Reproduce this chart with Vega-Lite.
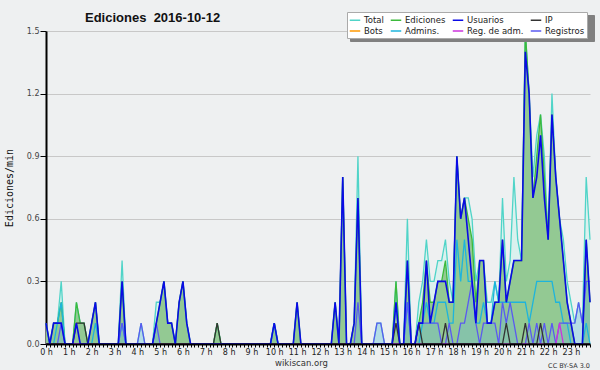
{
"$schema": "https://vega.github.io/schema/vega-lite/v6.json",
"width": 544, "height": 313,
"autosize": {"type": "none"},
"padding": {"left": 46, "top": 31, "right": 10, "bottom": 26},
"background": "#eef0f1",
"config": {"view": {"stroke": null}, "font": "DejaVu Sans"},
"title": {"text": "Ediciones\u00a0 2016-10-12", "anchor": "start", "frame": "group", "dx": 39, "dy": 12, "offset": -11, "baseline": "alphabetic", "font": "Liberation Sans", "fontSize": 13, "fontWeight": "bold", "color": "#111"},
"data": {"values": [
{"h":0,"T":0.1,"E":0.1,"U":0.1,"P":0,"A":0,"R":0,"M":0},
{"h":0.1667,"T":0,"E":0,"U":0,"P":0,"A":0,"R":0,"M":0},
{"h":0.3333,"T":0.1,"E":0.1,"U":0.1,"P":0,"A":0,"R":0,"M":0},
{"h":0.5,"T":0.1,"E":0.1,"U":0.1,"P":0,"A":0.1,"R":0,"M":0},
{"h":0.6667,"T":0.3,"E":0.2,"U":0.1,"P":0,"A":0.2,"R":0.1,"M":0},
{"h":0.8333,"T":0,"E":0,"U":0,"P":0,"A":0,"R":0,"M":0},
{"h":1,"T":0,"E":0,"U":0,"P":0,"A":0,"R":0,"M":0},
{"h":1.1667,"T":0,"E":0,"U":0,"P":0,"A":0,"R":0,"M":0},
{"h":1.3333,"T":0.2,"E":0.2,"U":0.1,"P":0.1,"A":0,"R":0,"M":0},
{"h":1.5,"T":0.1,"E":0.1,"U":0,"P":0.1,"A":0,"R":0,"M":0},
{"h":1.6667,"T":0.1,"E":0.1,"U":0,"P":0.1,"A":0,"R":0,"M":0},
{"h":1.8333,"T":0,"E":0,"U":0,"P":0,"A":0,"R":0,"M":0},
{"h":2,"T":0.1,"E":0.1,"U":0.1,"P":0,"A":0,"R":0,"M":0},
{"h":2.1667,"T":0.2,"E":0.2,"U":0.2,"P":0,"A":0.1,"R":0,"M":0},
{"h":2.3333,"T":0,"E":0,"U":0,"P":0,"A":0,"R":0,"M":0},
{"h":2.5,"T":0,"E":0,"U":0,"P":0,"A":0,"R":0,"M":0},
{"h":2.6667,"T":0,"E":0,"U":0,"P":0,"A":0,"R":0,"M":0},
{"h":2.8333,"T":0,"E":0,"U":0,"P":0,"A":0,"R":0,"M":0},
{"h":3,"T":0,"E":0,"U":0,"P":0,"A":0,"R":0,"M":0},
{"h":3.1667,"T":0,"E":0,"U":0,"P":0,"A":0,"R":0,"M":0},
{"h":3.3333,"T":0.4,"E":0.3,"U":0.3,"P":0,"A":0.1,"R":0.1,"M":0},
{"h":3.5,"T":0,"E":0,"U":0,"P":0,"A":0,"R":0,"M":0},
{"h":3.6667,"T":0,"E":0,"U":0,"P":0,"A":0,"R":0,"M":0},
{"h":3.8333,"T":0,"E":0,"U":0,"P":0,"A":0,"R":0,"M":0},
{"h":4,"T":0,"E":0,"U":0,"P":0,"A":0,"R":0,"M":0},
{"h":4.1667,"T":0.1,"E":0,"U":0,"P":0,"A":0,"R":0.1,"M":0},
{"h":4.3333,"T":0,"E":0,"U":0,"P":0,"A":0,"R":0,"M":0},
{"h":4.5,"T":0,"E":0,"U":0,"P":0,"A":0,"R":0,"M":0},
{"h":4.6667,"T":0,"E":0,"U":0,"P":0,"A":0,"R":0,"M":0},
{"h":4.8333,"T":0.2,"E":0.1,"U":0.1,"P":0,"A":0,"R":0.1,"M":0},
{"h":5,"T":0.2,"E":0.2,"U":0.2,"P":0,"A":0,"R":0,"M":0},
{"h":5.1667,"T":0.3,"E":0.3,"U":0.3,"P":0,"A":0,"R":0,"M":0},
{"h":5.3333,"T":0.1,"E":0.1,"U":0.1,"P":0,"A":0,"R":0,"M":0},
{"h":5.5,"T":0.1,"E":0.1,"U":0.1,"P":0,"A":0,"R":0,"M":0},
{"h":5.6667,"T":0,"E":0,"U":0,"P":0,"A":0,"R":0,"M":0},
{"h":5.8333,"T":0.2,"E":0.2,"U":0.2,"P":0,"A":0,"R":0,"M":0},
{"h":6,"T":0.3,"E":0.3,"U":0.3,"P":0,"A":0,"R":0,"M":0},
{"h":6.1667,"T":0.1,"E":0.1,"U":0.1,"P":0,"A":0,"R":0,"M":0},
{"h":6.3333,"T":0,"E":0,"U":0,"P":0,"A":0,"R":0,"M":0},
{"h":6.5,"T":0,"E":0,"U":0,"P":0,"A":0,"R":0,"M":0},
{"h":6.6667,"T":0,"E":0,"U":0,"P":0,"A":0,"R":0,"M":0},
{"h":6.8333,"T":0,"E":0,"U":0,"P":0,"A":0,"R":0,"M":0},
{"h":7,"T":0,"E":0,"U":0,"P":0,"A":0,"R":0,"M":0},
{"h":7.1667,"T":0,"E":0,"U":0,"P":0,"A":0,"R":0,"M":0},
{"h":7.3333,"T":0,"E":0,"U":0,"P":0,"A":0,"R":0,"M":0},
{"h":7.5,"T":0.1,"E":0.1,"U":0,"P":0.1,"A":0,"R":0,"M":0},
{"h":7.6667,"T":0,"E":0,"U":0,"P":0,"A":0,"R":0,"M":0},
{"h":7.8333,"T":0,"E":0,"U":0,"P":0,"A":0,"R":0,"M":0},
{"h":8,"T":0,"E":0,"U":0,"P":0,"A":0,"R":0,"M":0},
{"h":8.1667,"T":0,"E":0,"U":0,"P":0,"A":0,"R":0,"M":0},
{"h":8.3333,"T":0,"E":0,"U":0,"P":0,"A":0,"R":0,"M":0},
{"h":8.5,"T":0,"E":0,"U":0,"P":0,"A":0,"R":0,"M":0},
{"h":8.6667,"T":0,"E":0,"U":0,"P":0,"A":0,"R":0,"M":0},
{"h":8.8333,"T":0,"E":0,"U":0,"P":0,"A":0,"R":0,"M":0},
{"h":9,"T":0,"E":0,"U":0,"P":0,"A":0,"R":0,"M":0},
{"h":9.1667,"T":0,"E":0,"U":0,"P":0,"A":0,"R":0,"M":0},
{"h":9.3333,"T":0,"E":0,"U":0,"P":0,"A":0,"R":0,"M":0},
{"h":9.5,"T":0,"E":0,"U":0,"P":0,"A":0,"R":0,"M":0},
{"h":9.6667,"T":0,"E":0,"U":0,"P":0,"A":0,"R":0,"M":0},
{"h":9.8333,"T":0,"E":0,"U":0,"P":0,"A":0,"R":0,"M":0},
{"h":10,"T":0.1,"E":0.1,"U":0.1,"P":0,"A":0.1,"R":0,"M":0},
{"h":10.1667,"T":0,"E":0,"U":0,"P":0,"A":0,"R":0,"M":0},
{"h":10.3333,"T":0,"E":0,"U":0,"P":0,"A":0,"R":0,"M":0},
{"h":10.5,"T":0,"E":0,"U":0,"P":0,"A":0,"R":0,"M":0},
{"h":10.6667,"T":0,"E":0,"U":0,"P":0,"A":0,"R":0,"M":0},
{"h":10.8333,"T":0,"E":0,"U":0,"P":0,"A":0,"R":0,"M":0},
{"h":11,"T":0.2,"E":0.2,"U":0.2,"P":0,"A":0,"R":0,"M":0},
{"h":11.1667,"T":0,"E":0,"U":0,"P":0,"A":0,"R":0,"M":0},
{"h":11.3333,"T":0,"E":0,"U":0,"P":0,"A":0,"R":0,"M":0},
{"h":11.5,"T":0,"E":0,"U":0,"P":0,"A":0,"R":0,"M":0},
{"h":11.6667,"T":0,"E":0,"U":0,"P":0,"A":0,"R":0,"M":0},
{"h":11.8333,"T":0,"E":0,"U":0,"P":0,"A":0,"R":0,"M":0},
{"h":12,"T":0,"E":0,"U":0,"P":0,"A":0,"R":0,"M":0},
{"h":12.1667,"T":0,"E":0,"U":0,"P":0,"A":0,"R":0,"M":0},
{"h":12.3333,"T":0,"E":0,"U":0,"P":0,"A":0,"R":0,"M":0},
{"h":12.5,"T":0,"E":0,"U":0,"P":0,"A":0,"R":0,"M":0},
{"h":12.6667,"T":0.2,"E":0.2,"U":0.2,"P":0,"A":0,"R":0,"M":0},
{"h":12.8333,"T":0,"E":0,"U":0,"P":0,"A":0,"R":0,"M":0},
{"h":13,"T":0.8,"E":0.8,"U":0.8,"P":0,"A":0,"R":0,"M":0},
{"h":13.1667,"T":0,"E":0,"U":0,"P":0,"A":0,"R":0,"M":0},
{"h":13.3333,"T":0,"E":0,"U":0,"P":0,"A":0,"R":0,"M":0},
{"h":13.5,"T":0.1,"E":0.1,"U":0.1,"P":0,"A":0,"R":0,"M":0},
{"h":13.6667,"T":0.9,"E":0.7,"U":0.7,"P":0,"A":0,"R":0.2,"M":0},
{"h":13.8333,"T":0,"E":0,"U":0,"P":0,"A":0,"R":0,"M":0},
{"h":14,"T":0,"E":0,"U":0,"P":0,"A":0,"R":0,"M":0},
{"h":14.1667,"T":0,"E":0,"U":0,"P":0,"A":0,"R":0,"M":0},
{"h":14.3333,"T":0,"E":0,"U":0,"P":0,"A":0,"R":0,"M":0},
{"h":14.5,"T":0.1,"E":0,"U":0,"P":0,"A":0,"R":0.1,"M":0},
{"h":14.6667,"T":0.1,"E":0,"U":0,"P":0,"A":0,"R":0.1,"M":0},
{"h":14.8333,"T":0,"E":0,"U":0,"P":0,"A":0,"R":0,"M":0},
{"h":15,"T":0,"E":0,"U":0,"P":0,"A":0,"R":0,"M":0},
{"h":15.1667,"T":0,"E":0,"U":0,"P":0,"A":0,"R":0,"M":0},
{"h":15.3333,"T":0.3,"E":0.3,"U":0.2,"P":0.1,"A":0.2,"R":0,"M":0},
{"h":15.5,"T":0,"E":0,"U":0,"P":0,"A":0,"R":0,"M":0},
{"h":15.6667,"T":0,"E":0,"U":0,"P":0,"A":0,"R":0,"M":0},
{"h":15.8333,"T":0.6,"E":0.4,"U":0.4,"P":0,"A":0.2,"R":0.2,"M":0},
{"h":16,"T":0,"E":0,"U":0,"P":0,"A":0,"R":0,"M":0},
{"h":16.1667,"T":0,"E":0,"U":0,"P":0,"A":0,"R":0,"M":0},
{"h":16.3333,"T":0.2,"E":0.1,"U":0.1,"P":0.1,"A":0,"R":0.1,"M":0},
{"h":16.5,"T":0.3,"E":0.2,"U":0.1,"P":0,"A":0.1,"R":0.1,"M":0},
{"h":16.6667,"T":0.5,"E":0.4,"U":0.4,"P":0,"A":0.2,"R":0.1,"M":0},
{"h":16.8333,"T":0.3,"E":0.2,"U":0.1,"P":0,"A":0.1,"R":0.1,"M":0},
{"h":17,"T":0.3,"E":0.2,"U":0.2,"P":0,"A":0.1,"R":0.1,"M":0},
{"h":17.1667,"T":0.4,"E":0.3,"U":0.3,"P":0,"A":0.2,"R":0.1,"M":0},
{"h":17.3333,"T":0.4,"E":0.3,"U":0.3,"P":0,"A":0.2,"R":0,"M":0},
{"h":17.5,"T":0.5,"E":0.4,"U":0.3,"P":0.1,"A":0.2,"R":0,"M":0},
{"h":17.6667,"T":0.3,"E":0.2,"U":0.2,"P":0,"A":0.1,"R":0.1,"M":0},
{"h":17.8333,"T":0.2,"E":0.2,"U":0.2,"P":0,"A":0.1,"R":0,"M":0},
{"h":18,"T":0.9,"E":0.9,"U":0.9,"P":0,"A":0.5,"R":0,"M":0},
{"h":18.1667,"T":0.6,"E":0.6,"U":0.6,"P":0,"A":0.3,"R":0.1,"M":0},
{"h":18.3333,"T":0.7,"E":0.7,"U":0.7,"P":0,"A":0.5,"R":0.1,"M":0},
{"h":18.5,"T":0.7,"E":0.6,"U":0.5,"P":0,"A":0.3,"R":0.2,"M":0},
{"h":18.6667,"T":0.6,"E":0.5,"U":0.3,"P":0,"A":0.3,"R":0.3,"M":0},
{"h":18.8333,"T":0.3,"E":0.2,"U":0.1,"P":0,"A":0.1,"R":0.1,"M":0},
{"h":19,"T":0.4,"E":0.4,"U":0.4,"P":0,"A":0.1,"R":0,"M":0},
{"h":19.1667,"T":0.4,"E":0.4,"U":0.4,"P":0,"A":0.2,"R":0.1,"M":0},
{"h":19.3333,"T":0.2,"E":0.1,"U":0.1,"P":0,"A":0.1,"R":0.1,"M":0},
{"h":19.5,"T":0.2,"E":0.1,"U":0.1,"P":0,"A":0.1,"R":0.1,"M":0},
{"h":19.6667,"T":0.3,"E":0.2,"U":0.2,"P":0,"A":0.3,"R":0.1,"M":0},
{"h":19.8333,"T":0.2,"E":0.2,"U":0.2,"P":0,"A":0.2,"R":0,"M":0},
{"h":20,"T":0.7,"E":0.5,"U":0.5,"P":0,"A":0.2,"R":0.2,"M":0},
{"h":20.1667,"T":0.3,"E":0.2,"U":0.2,"P":0.1,"A":0.2,"R":0.1,"M":0},
{"h":20.3333,"T":0.4,"E":0.3,"U":0.3,"P":0,"A":0.2,"R":0.2,"M":0},
{"h":20.5,"T":0.8,"E":0.4,"U":0.4,"P":0,"A":0.2,"R":0.1,"M":0},
{"h":20.6667,"T":0.5,"E":0.4,"U":0.4,"P":0,"A":0.2,"R":0,"M":0},
{"h":20.8333,"T":0.4,"E":0.4,"U":0.4,"P":0,"A":0.2,"R":0,"M":0},
{"h":21,"T":1.5,"E":1.5,"U":1.4,"P":0.1,"A":0.2,"R":0,"M":0},
{"h":21.1667,"T":1.2,"E":1.2,"U":1.2,"P":0,"A":0.1,"R":0.1,"M":0},
{"h":21.3333,"T":0.8,"E":0.7,"U":0.7,"P":0,"A":0.2,"R":0,"M":0},
{"h":21.5,"T":1.0,"E":0.9,"U":0.8,"P":0,"A":0.3,"R":0.1,"M":0},
{"h":21.6667,"T":1.1,"E":1.1,"U":1.0,"P":0.1,"A":0.3,"R":0,"M":0},
{"h":21.8333,"T":0.9,"E":0.8,"U":0.7,"P":0,"A":0.3,"R":0.1,"M":0},
{"h":22,"T":0.5,"E":0.5,"U":0.5,"P":0,"A":0.3,"R":0,"M":0},
{"h":22.1667,"T":1.2,"E":1.1,"U":1.1,"P":0,"A":0.3,"R":0.1,"M":0},
{"h":22.3333,"T":0.8,"E":0.8,"U":0.8,"P":0,"A":0.2,"R":0,"M":0},
{"h":22.5,"T":0.6,"E":0.6,"U":0.6,"P":0,"A":0.2,"R":0.1,"M":0.1},
{"h":22.6667,"T":0.5,"E":0.4,"U":0.4,"P":0,"A":0.1,"R":0.1,"M":0},
{"h":22.8333,"T":0.3,"E":0.2,"U":0.2,"P":0,"A":0.1,"R":0.1,"M":0},
{"h":23,"T":0.2,"E":0.1,"U":0.1,"P":0,"A":0,"R":0.1,"M":0},
{"h":23.1667,"T":0.1,"E":0,"U":0,"P":0,"A":0,"R":0.1,"M":0},
{"h":23.3333,"T":0.2,"E":0,"U":0,"P":0,"A":0,"R":0.2,"M":0},
{"h":23.5,"T":0.1,"E":0,"U":0,"P":0,"A":0,"R":0.1,"M":0},
{"h":23.6667,"T":0.8,"E":0.5,"U":0.5,"P":0,"A":0.1,"R":0.3,"M":0},
{"h":23.8333,"T":0.5,"E":0.2,"U":0.2,"P":0,"A":0,"R":0.3,"M":0}
]},
"encoding": {"x": {"field": "h", "type": "quantitative", "scale": {"domain": [0, 23.8333], "nice": false, "zero": false},
  "axis": {"values": [0,0.1667,0.3333,0.5,0.6667,0.8333,1,1.1667,1.3333,1.5,1.6667,1.8333,2,2.1667,2.3333,2.5,2.6667,2.8333,3,3.1667,3.3333,3.5,3.6667,3.8333,4,4.1667,4.3333,4.5,4.6667,4.8333,5,5.1667,5.3333,5.5,5.6667,5.8333,6,6.1667,6.3333,6.5,6.6667,6.8333,7,7.1667,7.3333,7.5,7.6667,7.8333,8,8.1667,8.3333,8.5,8.6667,8.8333,9,9.1667,9.3333,9.5,9.6667,9.8333,10,10.1667,10.3333,10.5,10.6667,10.8333,11,11.1667,11.3333,11.5,11.6667,11.8333,12,12.1667,12.3333,12.5,12.6667,12.8333,13,13.1667,13.3333,13.5,13.6667,13.8333,14,14.1667,14.3333,14.5,14.6667,14.8333,15,15.1667,15.3333,15.5,15.6667,15.8333,16,16.1667,16.3333,16.5,16.6667,16.8333,17,17.1667,17.3333,17.5,17.6667,17.8333,18,18.1667,18.3333,18.5,18.6667,18.8333,19,19.1667,19.3333,19.5,19.6667,19.8333,20,20.1667,20.3333,20.5,20.6667,20.8333,21,21.1667,21.3333,21.5,21.6667,21.8333,22,22.1667,22.3333,22.5,22.6667,22.8333,23,23.1667,23.3333,23.5,23.6667,23.8333],
   "labelExpr": "abs(datum.value - round(datum.value)) < 0.01 ? round(datum.value) + ' h' : ''",
   "labelOverlap": false, "labelFlush": false, "labelBound": false, "labelFont": "DejaVu Sans", "labelFontSize": 8, "labelColor": "#222", "labelPadding": 1,
   "tickColor": "#000", "tickSize": 3, "domainColor": "#000", "domainWidth": 2, "grid": false, "zindex": 1,
   "title": "wikiscan.org", "titleFont": "DejaVu Sans", "titleFontSize": 8.5, "titleFontWeight": "normal", "titleColor": "#333", "titlePadding": 2, "titleX": 255}}},
"layer": [
 {"mark": {"type": "area", "color": "#dbf1ee"},
  "encoding": {"y": {"field": "T", "type": "quantitative", "scale": {"domain": [0, 1.5], "nice": false},
   "axis": {"values": [0,0.075,0.15,0.225,0.3,0.375,0.45,0.525,0.6,0.675,0.75,0.825,0.9,0.975,1.05,1.125,1.2,1.275,1.35,1.425,1.5],
    "labelExpr": "abs(datum.value/0.3 - round(datum.value/0.3)) < 0.01 ? format(datum.value, '.1f') : ''",
    "gridColor": "#c8c8c8", "gridOpacity": {"condition": {"test": "abs(datum.value/0.3 - round(datum.value/0.3)) < 0.01", "value": 1}, "value": 0},
    "tickSize": {"condition": {"test": "abs(datum.value/0.3 - round(datum.value/0.3)) < 0.01", "value": 6}, "value": 3},
    "tickColor": "#000", "domainColor": "#000", "domainWidth": 2, "labelFont": "DejaVu Sans", "labelFontSize": 8, "labelColor": "#444", "labelPadding": 1,
    "title": "Ediciones/min", "titleFont": "DejaVu Sans Mono", "titleFontSize": 10, "titleFontWeight": "normal", "titleColor": "#111", "titlePadding": 12}}}},
 {"mark": {"type": "area", "color": "#93c993"}, "encoding": {"y": {"field": "E", "type": "quantitative", "title": "Ediciones/min"}}},
 {"mark": {"type": "area", "color": "#71b6d4", "opacity": 0.35}, "encoding": {"y": {"field": "R", "type": "quantitative", "title": "Ediciones/min"}}},
 {"mark": {"type": "line", "strokeWidth": 1.3}, "encoding": {"y": {"field": "T", "type": "quantitative", "title": "Ediciones/min"},
   "color": {"datum": "Total", "type": "nominal",
     "scale": {"domain": ["Total", "Ediciones", "Usuarios", "IP", "Bots", "Admins.", "Reg. de adm.", "Registros"], "range": ["#50d4c8", "#3cba3c", "#0a0ae6", "#333333", "#ff9900", "#1eb4dc", "#cc33dd", "#5a5af0"]},
     "legend": {"title": null, "orient": "none", "legendX": 301, "legendY": -19, "zindex": 2, "direction": "horizontal", "columns": 4, "symbolType": "stroke", "symbolSize": 110, "symbolStrokeWidth": 1.5, "labelFont": "DejaVu Sans", "labelFontSize": 8.5, "labelColor": "#222", "labelOffset": 3, "fillColor": "#ffffff", "strokeColor": "#aaaaaa", "padding": 2, "rowPadding": 0, "columnPadding": 3, "gridAlign": "each"}}}},
 {"mark": {"type": "line", "strokeWidth": 1.3}, "encoding": {"y": {"field": "E", "type": "quantitative", "title": "Ediciones/min"}, "color": {"datum": "Ediciones", "type": "nominal"}}},
 {"mark": {"type": "line", "strokeWidth": 1.3}, "encoding": {"y": {"field": "A", "type": "quantitative", "title": "Ediciones/min"}, "color": {"datum": "Admins.", "type": "nominal"}}},
 {"mark": {"type": "line", "strokeWidth": 1.3}, "encoding": {"y": {"field": "R", "type": "quantitative", "title": "Ediciones/min"}, "color": {"datum": "Registros", "type": "nominal"}}},
 {"mark": {"type": "line", "strokeWidth": 1.3}, "encoding": {"y": {"field": "M", "type": "quantitative", "title": "Ediciones/min"}, "color": {"datum": "Reg. de adm.", "type": "nominal"}}},
 {"mark": {"type": "line", "strokeWidth": 1.3}, "encoding": {"y": {"field": "P", "type": "quantitative", "title": "Ediciones/min"}, "color": {"datum": "IP", "type": "nominal"}}},
 {"mark": {"type": "line", "strokeWidth": 1.6}, "encoding": {"y": {"field": "U", "type": "quantitative", "title": "Ediciones/min"}, "color": {"datum": "Usuarios", "type": "nominal"}}},
 {"transform": [{"filter": "datum.h > 23.8"}],
  "mark": {"type": "text", "align": "right", "baseline": "middle", "dy": 22, "font": "DejaVu Sans", "fontSize": 6.5, "color": "#333", "clip": false},
  "encoding": {"y": {"datum": 0, "type": "quantitative"}, "text": {"value": "CC BY-SA 3.0"},
   "opacity": {"datum": "s1", "type": "nominal",
     "scale": {"domain": ["s1", "s2", "s3", "s4", "s5", "s6", "s7", "s8"], "range": [1, 1, 1, 1, 1, 1, 1, 1]},
     "legend": {"title": null, "orient": "none", "legendX": 304, "legendY": -16, "zindex": 1, "direction": "horizontal", "columns": 4, "symbolType": "stroke", "symbolSize": 110, "symbolStrokeWidth": 1.5, "symbolOpacity": 0, "labelExpr": "''", "labelOffset": 0, "labelFontSize": 8.5, "fillColor": "#808080", "strokeColor": "#808080", "padding": 2, "rowPadding": 0, "columnPadding": 57, "gridAlign": "each"}}}}
]
}
